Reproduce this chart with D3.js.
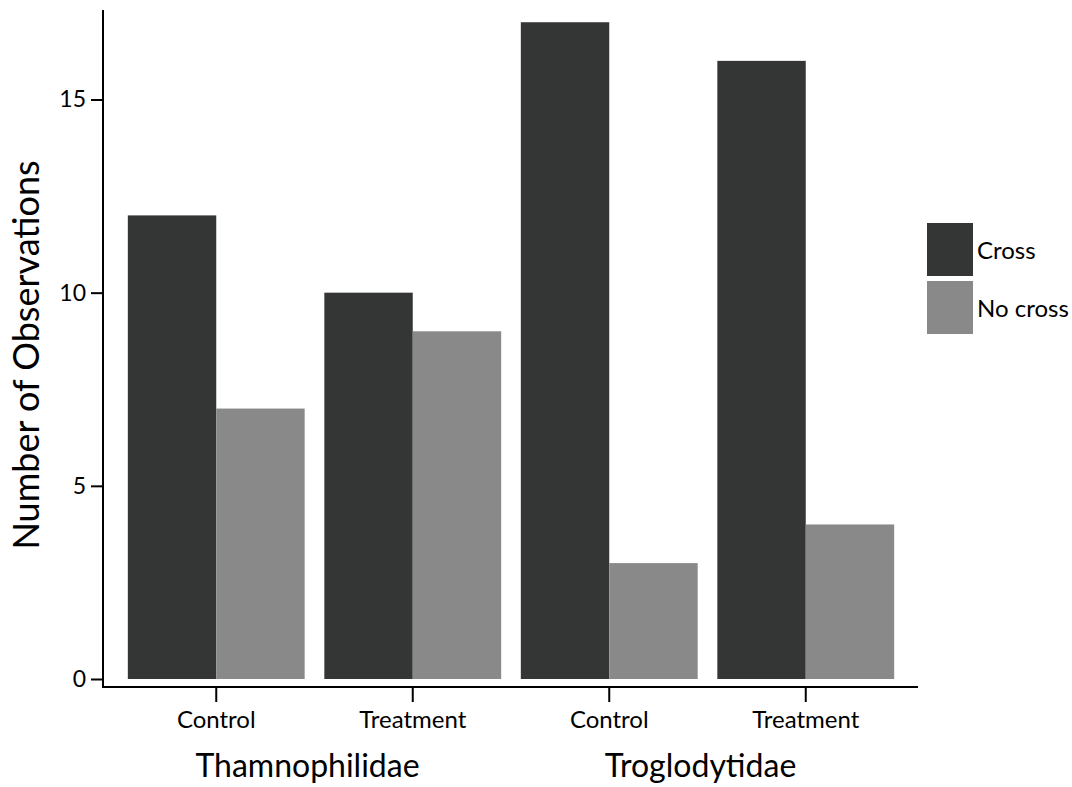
<!DOCTYPE html>
<html><head><meta charset="utf-8">
<script src="https://cdn.jsdelivr.net/npm/d3@7"></script>
<style>body{margin:0;background:#fff}svg{display:block}text{font-family:Lato,"Open Sans",sans-serif;fill:#000}</style>
</head><body><svg id="c" width="1072" height="787"></svg>
<script>
const families = ["Thamnophilidae", "Troglodytidae"];
const treatments = ["Control", "Treatment"];
const seriesNames = ["Cross", "No cross"];
const crossValues = [12, 10, 17, 16];
const noCrossValues = [7, 9, 3, 4];
const yTicks = [0, 5, 10, 15];
const colors = ["#343636", "#898989"];

const svg = d3.select("#c");
const keys = [];
families.forEach(f => treatments.forEach(t => keys.push(f + "|" + t)));

const y = d3.scaleLinear().domain([0, 15]).range([679, 99.5]);
const x = d3.scaleBand().domain(keys).range([118, 904]).paddingInner(0.1).paddingOuter(0.05);
const xs = d3.scaleBand().domain(seriesNames).range([0, x.bandwidth()]);

const data = keys.map((k, i) => ({key: k, values: [crossValues[i], noCrossValues[i]]}));

const g = svg.append("g");
data.forEach(d => {
  d.values.forEach((v, j) => {
    g.append("rect")
      .attr("x", x(d.key) + xs(seriesNames[j]))
      .attr("width", xs.bandwidth())
      .attr("y", y(v))
      .attr("height", y(0) - y(v))
      .attr("fill", colors[j]);
  });
});

// y axis
const yAxis = d3.axisLeft(y).tickValues(yTicks).tickSize(12).tickPadding(5).tickFormat(d3.format("d"));
const ya = svg.append("g").attr("transform", "translate(103,0)").call(yAxis);
ya.select(".domain").remove();
ya.append("line").attr("x1", 0).attr("x2", 0).attr("y1", 10).attr("y2", 688).attr("stroke", "#000").attr("stroke-width", 2);
ya.selectAll(".tick line").attr("stroke", "#000").attr("stroke-width", 2);
ya.selectAll(".tick text").style("font-size", "23px").attr("fill", "#000");

// x axis
const xCenter = k => x(k) + x.bandwidth() / 2;
const xa = svg.append("g").attr("transform", "translate(0,687)");
xa.append("line").attr("x1", 102).attr("x2", 918).attr("y1", 0).attr("y2", 0).attr("stroke", "#000").attr("stroke-width", 2);
keys.forEach((k, i) => {
  xa.append("line").attr("x1", xCenter(k)).attr("x2", xCenter(k)).attr("y1", 0).attr("y2", 15).attr("stroke", "#000").attr("stroke-width", 2);
  xa.append("text").attr("x", xCenter(k)).attr("y", 41).attr("text-anchor", "middle").style("font-size", "24px").text(treatments[i % 2]);
});
families.forEach((f, i) => {
  const cx = (xCenter(keys[i * 2]) + xCenter(keys[i * 2 + 1])) / 2 - 7;
  svg.append("text").attr("x", cx).attr("y", 777).attr("text-anchor", "middle").style("font-size", "32px").text(f);
});

// y title
svg.append("text").attr("transform", "translate(39,355) rotate(-90)").attr("text-anchor", "middle").style("font-size", "36px").text("Number of Observations");

// legend
const lg = svg.append("g").attr("transform", "translate(927,223)");
seriesNames.forEach((s, i) => {
  lg.append("rect").attr("x", 0).attr("y", i * 58).attr("width", 46).attr("height", 53).attr("fill", colors[i]);
  lg.append("text").attr("x", 50).attr("y", i * 58 + 36).style("font-size", "24px").text(s);
});
</script></body></html>
